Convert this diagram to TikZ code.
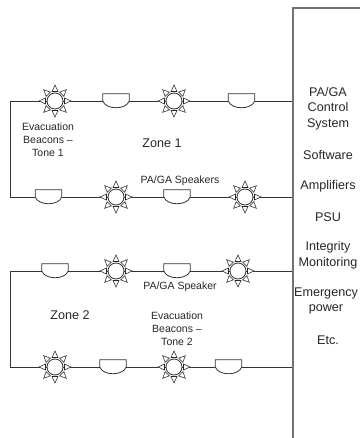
\documentclass[tikz,border=0pt]{standalone}
\usepackage{fontspec}
\setmainfont{Liberation Sans}
\usetikzlibrary{backgrounds}

\tikzset{
  wire/.style={line width=0.8pt, draw=black!80},
  panel/.style={line width=1.3pt, draw=black!55},
  beacon/.style={circle, wire, minimum size=16pt, inner sep=0pt},
  speaker/.style={rectangle, minimum width=26pt, minimum height=14pt, inner sep=0pt},
  ray/.style={line width=0.55pt, draw=black!85, fill=white},
  small/.style={align=center, inner sep=0pt, text=black!85, font=\fontsize{10.5}{13}\selectfont},
  big/.style={align=center, inner sep=0pt, text=black!85, font=\fontsize{12.6}{15.5}\selectfont}
}

\newcommand{\beacon}[3]{
  \node[beacon] (#1) at (#2,#3) {};
  \foreach \ang in {0,45,...,315}
    \draw[ray, shift={(#2,#3)}, rotate=\ang] (9.5,-3) -- (16,0) -- (9.5,3) -- cycle;
}
\newcommand{\speaker}[3]{
  \node[speaker] (#1) at (#2,#3) {};
  \draw[wire] (#1.north west) -- (#1.north east) -- (#1.east)
    .. controls +(-3,9) and +(3,9) .. (#1.west) -- cycle;
}

\begin{document}
\begin{tikzpicture}[x=1pt, y=-1pt]
  \useasboundingbox (0,0) rectangle (360,438);

  % Control panel
  \coordinate (panelTop) at (293,8);
  \coordinate (panelEnd) at (360,8);
  \coordinate (panelBot) at (293,438);
  \draw[panel] (panelEnd) -- (panelTop) -- (panelBot);

  % Zone 1
  \beacon{beaconA}{55}{101}
  \speaker{spkA}{116}{101}
  \beacon{beaconB}{174}{101}
  \speaker{spkB}{241.5}{101}
  \speaker{spkC}{48.5}{197}
  \beacon{beaconC}{116}{197}
  \speaker{spkD}{177}{197}
  \beacon{beaconD}{245}{197}

  % Zone 2
  \speaker{spkE}{55}{271}
  \beacon{beaconE}{116}{271}
  \speaker{spkF}{177}{271}
  \beacon{beaconF}{238}{271}
  \beacon{beaconG}{55}{367}
  \speaker{spkG}{113}{367}
  \beacon{beaconH}{174}{367}
  \speaker{spkH}{228.5}{367}

  % wire ends
  \coordinate (cornerA) at (10,101);
  \coordinate (cornerB) at (10,197);
  \coordinate (cornerC) at (10,271);
  \coordinate (cornerD) at (10,367);
  \coordinate (tapA) at (293,101);
  \coordinate (tapB) at (293,197);
  \coordinate (tapC) at (293,271);
  \coordinate (tapD) at (293,367);

  \begin{scope}[on background layer]
    \draw[wire] (tapA) -- (spkB) -- (beaconB) -- (spkA) -- (beaconA) -- (cornerA)
      -- (cornerB) -- (spkC) -- (beaconC) -- (spkD) -- (beaconD) -- (tapB);
    \draw[wire] (tapC) -- (beaconF) -- (spkF) -- (beaconE) -- (spkE) -- (cornerC)
      -- (cornerD) -- (beaconG) -- (spkG) -- (beaconH) -- (spkH) -- (tapD);
  \end{scope}

  % Labels
  \node[small] (lblToneA) at (48,140) {Evacuation\\Beacons --\\Tone 1};
  \node[big] (lblZoneA) at (162,143) {Zone 1};
  \node[small] (lblSpkA) at (180,181) {PA/GA Speakers};
  \node[small] (lblSpkB) at (180,287) {PA/GA Speaker};
  \node[big] (lblZoneB) at (70,315) {Zone 2};
  \node[small] (lblToneB) at (177,329) {Evacuation\\Beacons --\\Tone 2};

  % Panel text
  \node[big] (lblSystem) at (328,108.5) {PA/GA\\Control\\System};
  \node[big] (lblSoftware) at (328,155) {Software};
  \node[big] (lblAmps) at (328,186) {Amplifiers};
  \node[big] (lblPsu) at (328,217) {PSU};
  \node[big] (lblIntegrity) at (328,255) {Integrity\\Monitoring};
  \node[big] (lblPower) at (326,301) {Emergency\\power};
  \node[big] (lblEtc) at (328,340) {Etc.};
\end{tikzpicture}
\end{document}
